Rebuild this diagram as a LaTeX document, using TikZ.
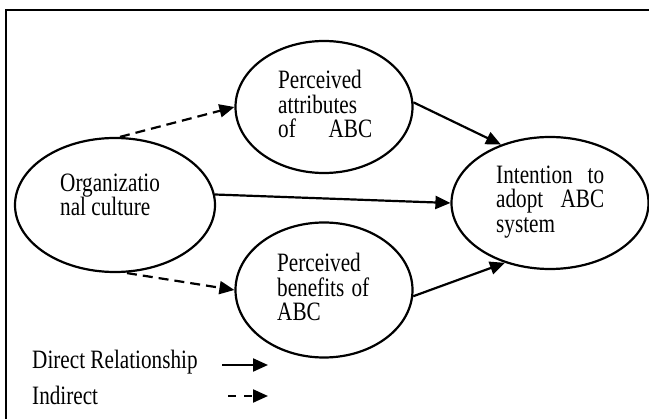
\documentclass[tikz,border=0pt]{standalone}
\usepackage{fontspec}
\setmainfont[FakeStretch=0.80]{Liberation Serif}
\usetikzlibrary{shapes.geometric,arrows.meta}
\begin{document}
\begin{tikzpicture}[x=1pt,y=-1pt,
  oval/.style={draw,ellipse,line width=2.2pt,inner sep=0pt},
  txt/.style={anchor=west,inner sep=0pt,align=left,font=\fontsize{26.5}{24.5}\selectfont},
  conn/.style={line width=2.2pt,-{Triangle[length=15pt,width=13pt]}},
  dconn/.style={conn,dash pattern=on 10pt off 6pt}]
\useasboundingbox (0,0) rectangle (649,419);
\draw[line width=2.2pt] (6,419) -- (6,10) -- (649,10);
% ellipses
\node[oval,minimum width=200pt,minimum height=134pt] (org) at (115,205) {};
\node[oval,minimum width=177pt,minimum height=132pt] (attr) at (324,107) {};
\node[oval,minimum width=177pt,minimum height=135pt] (ben) at (324,290) {};
\node[oval,minimum width=197pt,minimum height=132pt] (int) at (550,203) {};
% texts
\node[txt] (orgT) at (60,195) {Organizatio\\nal culture};
\node[txt] (attrT) at (278,104) {Perceived\\attributes\\\makebox[94pt][s]{of ABC}};
\node[txt] (benT) at (277,287) {Perceived\\\makebox[92pt][s]{benefits of}\\ABC};
\node[txt] (intT) at (496,202) {\makebox[108pt][s]{Intention to}\\\makebox[108pt][s]{adopt ABC}\\system};
% connectors
\draw[dconn] (org.north) ++(5,0) -- (attr.west);
\draw[dconn] (org.south) ++(12,0) -- (ben.west);
\draw[conn] (org.6) -- (int.west);
\draw[conn] (attr.3) -- (int.130);
\draw[conn] (ben.-4) -- (int.233);
% legend
\node[txt] (legD) at (32,362) {Direct Relationship};
\node[txt] (legI) at (32,395) {Indirect};
\coordinate (d1) at (222,365);
\coordinate (d2) at (268,365);
\coordinate (i1) at (228,396);
\coordinate (i2) at (268,396);
\draw[conn] (d1) -- (d2);
\draw[conn,dash pattern=on 8pt off 8pt] (i1) -- (i2);
\end{tikzpicture}
\end{document}
